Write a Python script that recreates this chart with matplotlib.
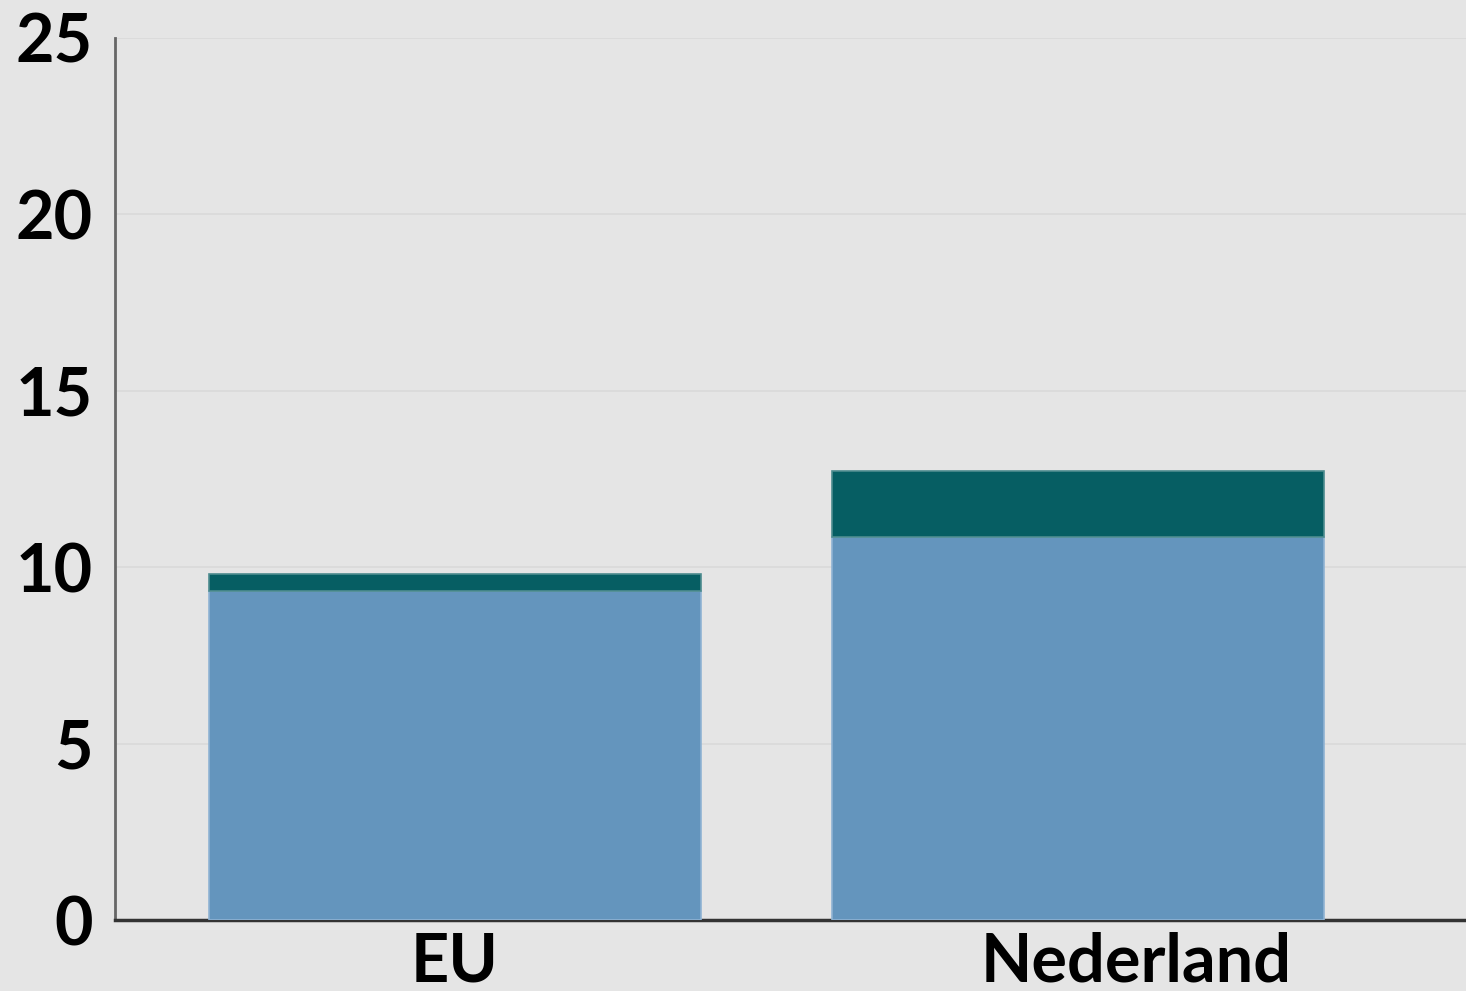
import matplotlib.pyplot as plt
import matplotlib.transforms as mtransforms
import numpy as np

# data
regions = ["EU", "Nederland"]
lower = [9.33, 10.85]
upper = [0.48, 1.89]
yticks = [0, 5, 10, 15, 20, 25]

bg = "#e5e5e5"
blue = "#6495bd"
teal = "#065e63"

fig = plt.figure(figsize=(14.66, 9.91), dpi=100, facecolor=bg)
ax = fig.add_axes([0.0784, 0.0716, 0.9216, 0.8901])
ax.set_facecolor(bg)

x = np.arange(len(regions))
ax.bar(x, lower, width=0.79, color=blue, edgecolor="#8fb3d3", linewidth=1.2, zorder=3)
ax.bar(x, upper, bottom=lower, width=0.79, color=teal, edgecolor="#4d8c8f",
       linewidth=1.2, zorder=3)

ax.set_xlim(-0.546, 1.623)
ax.set_ylim(0, 25)
ax.set_yticks(yticks)
ax.set_xticks(x)
ax.set_xticklabels(regions)
ax.yaxis.grid(True, color="#d9d9d9", linewidth=1.2, zorder=0)

for lab in ax.get_yticklabels() + ax.get_xticklabels():
    lab.set_fontfamily("Lato")
    lab.set_fontweight("bold")
    lab.set_fontsize(48)
ax.tick_params(axis="both", length=0)
ax.tick_params(axis="y", pad=16)
ax.tick_params(axis="x", pad=8)

# the second label sits right of its bar centre in the reference
nl = ax.get_xticklabels()[1]
nl.set_transform(nl.get_transform() + mtransforms.ScaledTranslation(0.58, 0, fig.dpi_scale_trans))

for s in ["top", "right"]:
    ax.spines[s].set_visible(False)
ax.spines["left"].set_color("#666666")
ax.spines["left"].set_linewidth(2)
ax.spines["bottom"].set_color("#333333")
ax.spines["bottom"].set_linewidth(2.5)

fig.savefig("out.png", dpi=100, facecolor=bg)
